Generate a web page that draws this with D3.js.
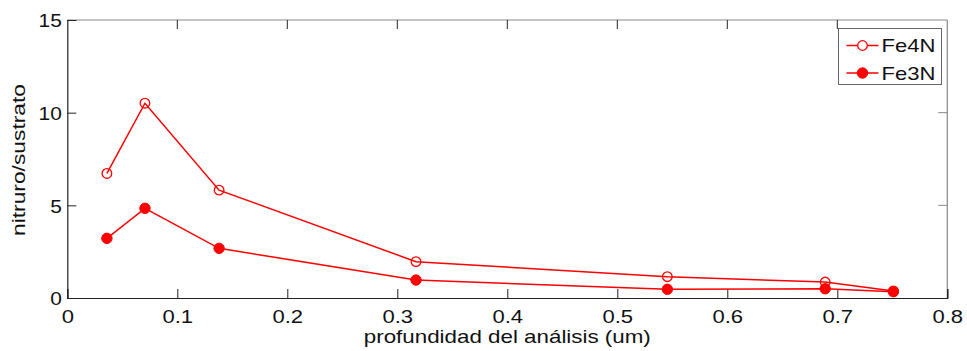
<!DOCTYPE html>
<html>
<head>
<meta charset="utf-8">
<script src="https://cdnjs.cloudflare.com/ajax/libs/d3/7.8.5/d3.min.js"></script>
<style>
  body { margin: 0; background: #fff; }
  svg { display: block; font-family: "Liberation Sans", Arial, sans-serif; }
</style>
</head>
<body>
<div id="chart"></div>
<script>
  'use strict';

  // profundidad del analisis (um)
  var depth = [0.036, 0.0706, 0.138, 0.317, 0.5455, 0.689, 0.751];
  // nitruro/sustrato
  var fe4n = [6.72, 10.51, 5.82, 1.96, 1.15, 0.86, 0.38];
  var fe3n = [3.22, 4.84, 2.68, 0.97, 0.47, 0.50, 0.34];

  var xTicks = [0, 0.1, 0.2, 0.3, 0.4, 0.5, 0.6, 0.7, 0.8];
  var yTicks = [0, 5, 10, 15];

  var series = [
    { name: 'Fe4N', values: fe4n, filled: false },
    { name: 'Fe3N', values: fe3n, filled: true }
  ];

  var width = 967, height = 351,
      margin = { left: 67.3, right: 19.7, top: 20, bottom: 53 },
      red = '#ff0000',
      tickLen = 9,
      fontSize = '19px',
      stretch = 'scale(1.16,1)';   // MATLAB text comes out a bit wide

  var svg = d3.select('#chart').append('svg')
      .attr('width', width)
      .attr('height', height);

  var x = d3.scaleLinear().domain([0, 0.8]).range([margin.left, width - margin.right]);
  var y = d3.scaleLinear().domain([0, 15]).range([height - margin.bottom, margin.top]);

  // box: top and right in grey
  svg.append('line')
      .attr('x1', x(0)).attr('x2', x(0.8))
      .attr('y1', y(15)).attr('y2', y(15))
      .attr('stroke', '#888').attr('stroke-width', 1.2);
  svg.append('line')
      .attr('x1', x(0.8)).attr('x2', x(0.8))
      .attr('y1', y(15)).attr('y2', y(0))
      .attr('stroke', '#888').attr('stroke-width', 1.2);

  // bottom axis
  var xAxis = svg.append('g')
      .attr('transform', 'translate(0,' + y(0) + ')')
      .call(d3.axisBottom(x).tickValues(xTicks).tickSize(-tickLen)
        .tickFormat(function (d) { return d === 0 ? '0' : d3.format('.1f')(d); }));

  // left axis
  var yAxis = svg.append('g')
      .attr('transform', 'translate(' + x(0) + ',0)')
      .call(d3.axisLeft(y).tickValues(yTicks).tickSize(-tickLen));

  [xAxis, yAxis].forEach(function (g) {
    g.select('.domain').attr('stroke', '#222').attr('stroke-width', 1.2);
    g.selectAll('.tick line').attr('stroke', '#222');
    g.selectAll('.tick text').attr('fill', '#111')
        .style('font-size', fontSize)
        .style('font-family', '"Liberation Sans", Arial, sans-serif');
  });
  xAxis.selectAll('.tick text').attr('y', 25).attr('dy', 0).attr('transform', stretch);
  yAxis.selectAll('.tick text').attr('x', -5).attr('dy', '0.36em').attr('transform', 'scale(1.1,1)');

  // top mirrored ticks
  svg.append('g').selectAll('line')
      .data(xTicks.slice(1, -1))
      .join('line')
      .attr('x1', function (d) { return x(d); })
      .attr('x2', function (d) { return x(d); })
      .attr('y1', y(15)).attr('y2', y(15) + tickLen)
      .attr('stroke', '#222');
  // right mirrored ticks
  svg.append('g').selectAll('line')
      .data(yTicks.slice(1, -1))
      .join('line')
      .attr('x1', x(0.8)).attr('x2', x(0.8) - tickLen)
      .attr('y1', function (d) { return y(d); })
      .attr('y2', function (d) { return y(d); })
      .attr('stroke', '#888');

  // axis labels
  svg.append('text')
      .attr('x', (x(0) + x(0.8)) / 2)
      .attr('y', 343)
      .attr('text-anchor', 'middle')
      .attr('textLength', 287)
      .attr('lengthAdjust', 'spacingAndGlyphs')
      .style('font-size', fontSize)
      .attr('fill', '#111')
      .text('profundidad del análisis (um)');

  svg.append('text')
      .attr('transform', 'translate(25,' + ((y(0) + y(15)) / 2 + 1) + ') rotate(-90)')
      .attr('text-anchor', 'middle')
      .attr('textLength', 152)
      .attr('lengthAdjust', 'spacingAndGlyphs')
      .style('font-size', fontSize)
      .attr('fill', '#111')
      .text('nitruro/sustrato');

  // lines and markers
  var line = d3.line()
      .x(function (d, i) { return x(depth[i]); })
      .y(function (d) { return y(d); });

  series.forEach(function (s) {
    svg.append('path')
        .datum(s.values)
        .attr('d', line)
        .attr('fill', 'none')
        .attr('stroke', red)
        .attr('stroke-width', 1.5);

    svg.append('g').selectAll('circle')
        .data(s.values)
        .join('circle')
        .attr('cx', function (d, i) { return x(depth[i]); })
        .attr('cy', function (d) { return y(d); })
        .attr('r', s.filled ? 5.2 : 4.8)
        .attr('fill', s.filled ? red : 'none')
        .attr('stroke', red)
        .attr('stroke-width', s.filled ? 1 : 1.3);
  });

  // legend
  var legend = svg.append('g').attr('transform', 'translate(838.5,28.5)');
  legend.append('rect')
      .attr('width', 103).attr('height', 56)
      .attr('fill', '#fff')
      .attr('stroke', '#666').attr('stroke-width', 1);

  series.forEach(function (s, i) {
    var row = legend.append('g').attr('transform', 'translate(0,' + (17 + i * 27.5) + ')');
    row.append('line')
        .attr('x1', 8).attr('x2', 40)
        .attr('stroke', red).attr('stroke-width', 1.5);
    row.append('circle')
        .attr('cx', 24).attr('r', s.filled ? 5.2 : 4.8)
        .attr('fill', s.filled ? red : '#fff')
        .attr('stroke', red)
        .attr('stroke-width', s.filled ? 1 : 1.3);
    row.append('text')
        .attr('x', 43 / 1.16).attr('dy', '0.36em')
        .attr('transform', stretch)
        .style('font-size', fontSize)
        .attr('fill', '#111')
        .text(s.name);
  });
</script>
</body>
</html>
